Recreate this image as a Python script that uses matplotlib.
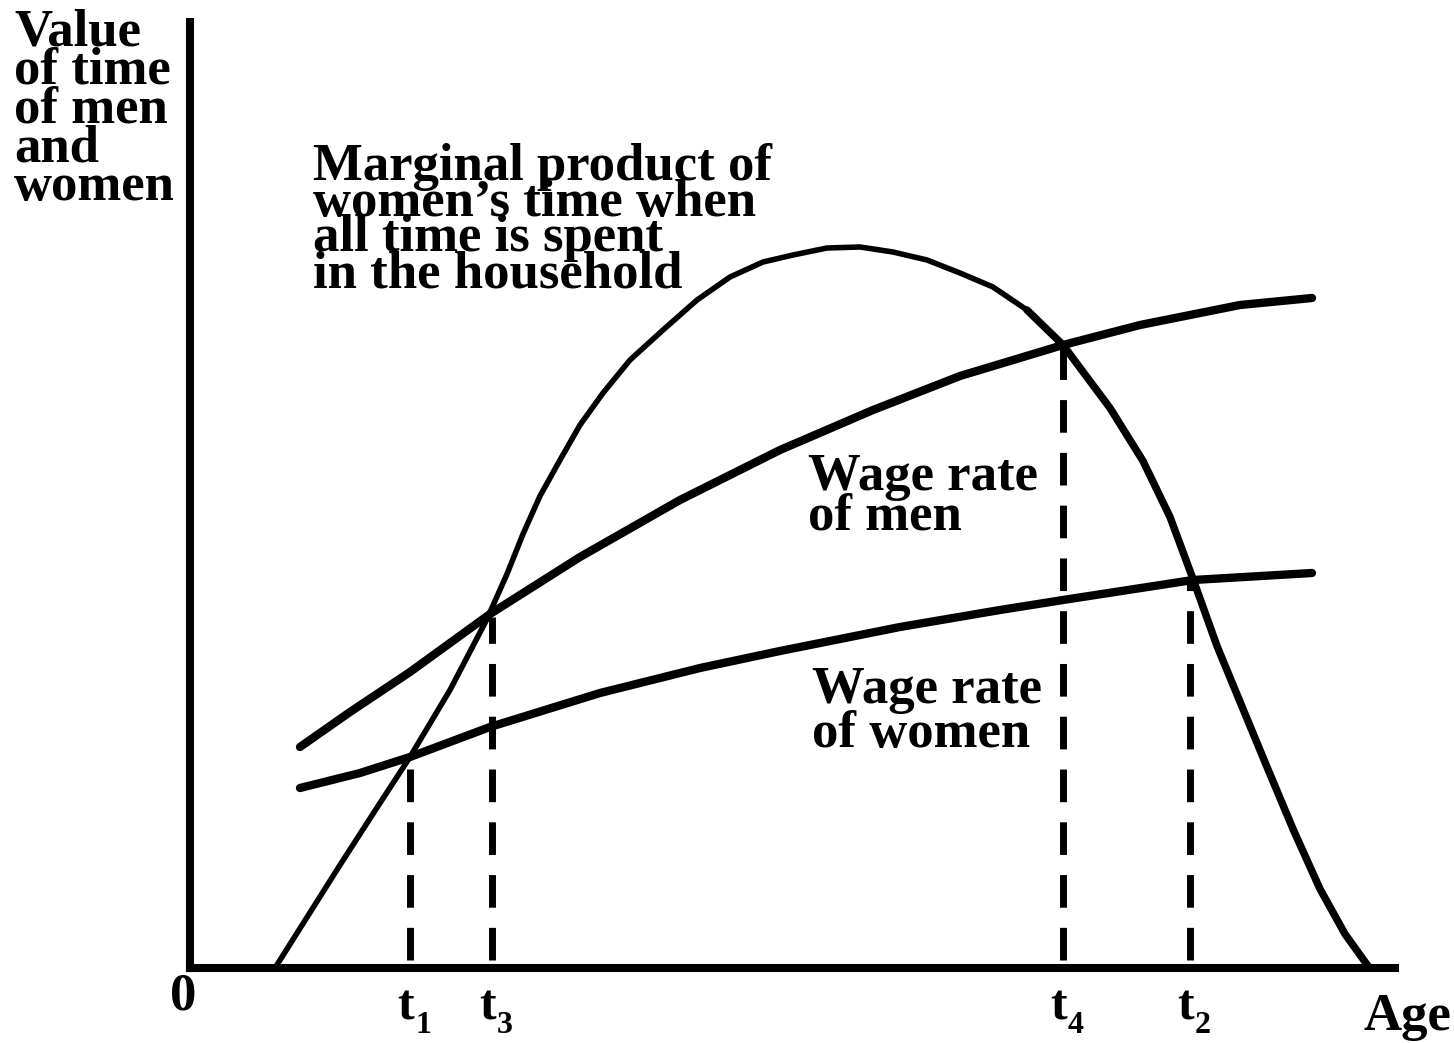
"""Time allocation diagram: value of time of men and women over the life cycle."""
import matplotlib

matplotlib.use("Agg")
import matplotlib.pyplot as plt

# user input begin
# marginal product of women's time when all time is spent in the household
hump_age = [85, 150, 190, 220, 260, 297, 317, 333, 350, 370, 390, 413, 440,
            473, 507, 540, 573, 603, 637, 670, 703, 737, 770, 803, 837, 873,
            920, 953, 980, 1003, 1027, 1053, 1077, 1103, 1130, 1155, 1178]
hump_val = [0, 103, 165, 211, 278, 349, 394, 434, 472, 508, 543, 575, 608,
            638, 668, 691, 706, 713, 720, 721, 716, 708, 695, 681, 658, 623,
            560, 507, 451, 389, 322, 259, 201, 139, 79, 34, 2]

# wage rate of men
men_age = [110, 160, 220, 300, 390, 490, 590, 683, 770, 873, 950, 1050, 1122]
men_val = [221, 256, 296, 354, 411, 468, 518, 558, 592, 623, 643, 663, 670]

# wage rate of women
women_age = [110, 170, 220, 300, 410, 510, 590, 710, 810, 873, 1003, 1122]
women_val = [180, 195, 211, 241, 275, 300, 317, 341, 358, 368, 388, 395]

# crossing ages and the value where each crossing happens
cross_names = ["1", "3", "4", "2"]
cross_age = [220, 302, 873, 1000]
cross_val = [211, 351, 621, 387]

ylabel_lines = ["Value", "of time", "of men", "and", "women"]
hump_lines = ["Marginal product of", "women\u2019s time when",
              "all time is spent", "in the household"]
men_lines = ["Wage rate", "of men"]
women_lines = ["Wage rate", "of women"]
# user input end
# --------------

font = {"family": "Liberation Serif", "weight": "bold", "color": "black"}


def put_lines(ax, x, y0, pitch, lines, size=38):
    for i, line in enumerate(lines):
        ax.text(x, y0 - i * pitch, line, ha="left", va="baseline",
                fontsize=size, clip_on=False, **font)


def main():
    fig = plt.figure(figsize=(14.54, 10.43), dpi=100)
    ax = fig.add_axes([190 / 1454, 75 / 1043, 1205 / 1454, 946 / 1043])
    ax.set_xlim(0, 1205)
    ax.set_ylim(0, 946)
    ax.set_xticks([])
    ax.set_yticks([])
    for side in ("top", "right"):
        ax.spines[side].set_visible(False)
    for side in ("left", "bottom"):
        ax.spines[side].set_linewidth(5.8)
        ax.spines[side].set_capstyle("projecting")

    line_kw = dict(color="black", solid_joinstyle="round",
                   solid_capstyle="round", clip_on=False)
    # the hump is drawn thinner on its rising side, heavier on the falling side
    ax.plot(hump_age, hump_val, lw=4.0, **line_kw)
    peak = hump_val.index(max(hump_val))
    ax.plot(hump_age[peak + 5:], hump_val[peak + 5:], lw=5.4, **line_kw)
    ax.plot(men_age, men_val, lw=6.0, **line_kw)
    ax.plot(women_age, women_val, lw=6.0, **line_kw)

    for name, a, v in zip(cross_names, cross_age, cross_val):
        ax.plot([a, a], [8, v], color="black", lw=5.0,
                dashes=(4.7, 2.9), dash_capstyle="butt")
        ax.text(a - 4, -52, "t", ha="center", va="baseline", fontsize=36,
                clip_on=False, **font)
        ax.text(a + 5, -65, name, ha="left", va="baseline", fontsize=23,
                clip_on=False, **font)

    put_lines(ax, -176, 923, 38.75, ylabel_lines)
    put_lines(ax, 123, 788, 35.7, hump_lines)
    put_lines(ax, 618, 478, 40, men_lines)
    put_lines(ax, 622, 265, 44, women_lines)
    ax.text(-7, -42, "0", ha="center", va="baseline", fontsize=38,
            clip_on=False, **font)
    ax.text(1173, -62, "Age", ha="left", va="baseline", fontsize=38,
            clip_on=False, **font)

    fig.savefig("out.png", dpi=100)


if __name__ == "__main__":
    main()
